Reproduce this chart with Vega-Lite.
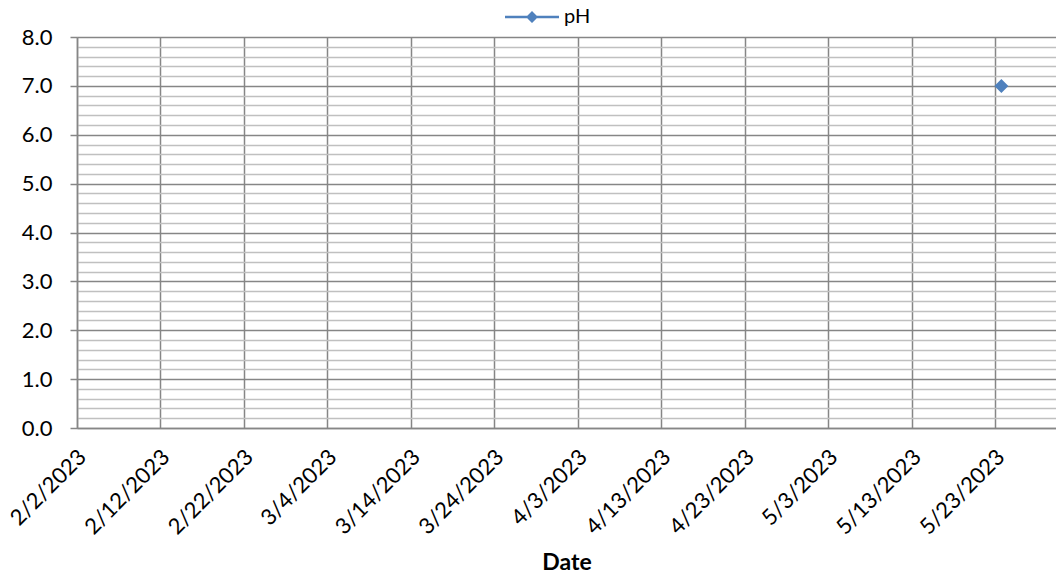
{
  "$schema": "https://vega.github.io/schema/vega-lite/v6.json",
  "width": 979,
  "height": 391,
  "autosize": {"type": "none"},
  "padding": {"left": 77, "top": 37, "right": 0, "bottom": 152},
  "background": "white",
  "config": {"view": {"stroke": null}, "font": "Lato"},
  "data": {"values": [{"Date": "2023-05-23T17:00:00Z", "pH": 7, "Series": "pH"}]},
  "layer": [
    {
      "mark": {"type": "point", "opacity": 0},
      "encoding": {
        "x": {"field": "Date", "type": "temporal",
          "scale": {"type": "utc", "domain": [{"year": 2023, "month": 2, "date": 2, "utc": true}, {"year": 2023, "month": 5, "date": 30, "hours": 6, "utc": true}]},
          "axis": {
            "values": [
              {"year": 2023, "month": 2, "date": 2, "utc": true},
              {"year": 2023, "month": 2, "date": 12, "utc": true},
              {"year": 2023, "month": 2, "date": 22, "utc": true},
              {"year": 2023, "month": 3, "date": 4, "utc": true},
              {"year": 2023, "month": 3, "date": 14, "utc": true},
              {"year": 2023, "month": 3, "date": 24, "utc": true},
              {"year": 2023, "month": 4, "date": 3, "utc": true},
              {"year": 2023, "month": 4, "date": 13, "utc": true},
              {"year": 2023, "month": 4, "date": 23, "utc": true},
              {"year": 2023, "month": 5, "date": 3, "utc": true},
              {"year": 2023, "month": 5, "date": 13, "utc": true},
              {"year": 2023, "month": 5, "date": 23, "utc": true}
            ],
            "labelExpr": "utcFormat(datum.value, '%-m/%-d/%Y')",
            "labelAngle": -45, "labelAlign": "right", "labelBaseline": "middle",
            "labelFontSize": 22, "labelColor": "black", "labelPadding": 25, "labelOffset": 5, "labelOverlap": false, "labelBound": false, "labelFlush": false,
            "grid": true, "gridColor": "#868686", "gridWidth": 1.5,
            "ticks": false, "domainColor": "#868686", "domainWidth": 1.5,
            "title": "Date", "titleFontSize": 23, "titleFontWeight": "bold", "titleColor": "black", "titlePadding": 14
          }},
        "y": {"field": "pH", "type": "quantitative",
          "scale": {"domain": [0, 8], "nice": false},
          "axis": {"orient": "left", "values": [0.2,0.4,0.6,0.8,1.2,1.4,1.6,1.8,2.2,2.4,2.6,2.8,3.2,3.4,3.6,3.8,4.2,4.4,4.6,4.8,5.2,5.4,5.6,5.8,6.2,6.4,6.6,6.8,7.2,7.4,7.6,7.8],
            "grid": true, "gridColor": "#c0c0c0", "gridWidth": 1.5, "labels": false, "ticks": false, "domain": false, "title": null}}
      }
    },
    {
      "mark": {"type": "point", "shape": "diamond", "filled": true, "size": 196, "opacity": 1},
      "encoding": {
        "x": {"field": "Date", "type": "temporal",
          "scale": {"type": "utc", "domain": [{"year": 2023, "month": 2, "date": 2, "utc": true}, {"year": 2023, "month": 5, "date": 30, "hours": 6, "utc": true}]},
          "axis": {
            "values": [
              {"year": 2023, "month": 2, "date": 2, "utc": true},
              {"year": 2023, "month": 2, "date": 12, "utc": true},
              {"year": 2023, "month": 2, "date": 22, "utc": true},
              {"year": 2023, "month": 3, "date": 4, "utc": true},
              {"year": 2023, "month": 3, "date": 14, "utc": true},
              {"year": 2023, "month": 3, "date": 24, "utc": true},
              {"year": 2023, "month": 4, "date": 3, "utc": true},
              {"year": 2023, "month": 4, "date": 13, "utc": true},
              {"year": 2023, "month": 4, "date": 23, "utc": true},
              {"year": 2023, "month": 5, "date": 3, "utc": true},
              {"year": 2023, "month": 5, "date": 13, "utc": true},
              {"year": 2023, "month": 5, "date": 23, "utc": true}
            ],
            "labelExpr": "utcFormat(datum.value, '%-m/%-d/%Y')",
            "labelAngle": -45, "labelAlign": "right", "labelBaseline": "middle",
            "labelFontSize": 22, "labelColor": "black", "labelPadding": 25, "labelOffset": 5, "labelOverlap": false, "labelBound": false, "labelFlush": false,
            "grid": true, "gridColor": "#868686", "gridWidth": 1.5,
            "ticks": false, "domainColor": "#868686", "domainWidth": 1.5,
            "title": "Date", "titleFontSize": 23, "titleFontWeight": "bold", "titleColor": "black", "titlePadding": 14
          }},
        "y": {"field": "pH", "type": "quantitative",
          "scale": {"domain": [0, 8], "nice": false},
          "axis": {"orient": "left", "values": [0,1,2,3,4,5,6,7,8], "format": ".1f",
            "labelFontSize": 22, "labelColor": "black", "labelPadding": 18,
            "tickSize": 7, "tickColor": "#868686", "tickWidth": 1.5,
            "domainColor": "#868686", "domainWidth": 1.5,
            "grid": true, "gridColor": "#868686", "gridWidth": 1.5, "title": null}},
        "color": {"field": "Series", "type": "nominal",
          "scale": {"range": ["#4f81bd"]},
          "legend": {"title": null, "orient": "none", "legendX": 445, "legendY": -30, "direction": "horizontal",
            "symbolType": "M-4.5,-0.22L4.5,-0.22L4.5,0.22L-4.5,0.22ZM0,-1L1,0L0,1L-1,0Z", "symbolSize": 144,
            "symbolFillColor": "#4f81bd", "symbolOpacity": 1,
            "labelFontSize": 20, "labelColor": "black", "labelOffset": 22, "padding": 0}}
      }
    }
  ],
  "resolve": {"axis": {"y": "independent"}}
}
